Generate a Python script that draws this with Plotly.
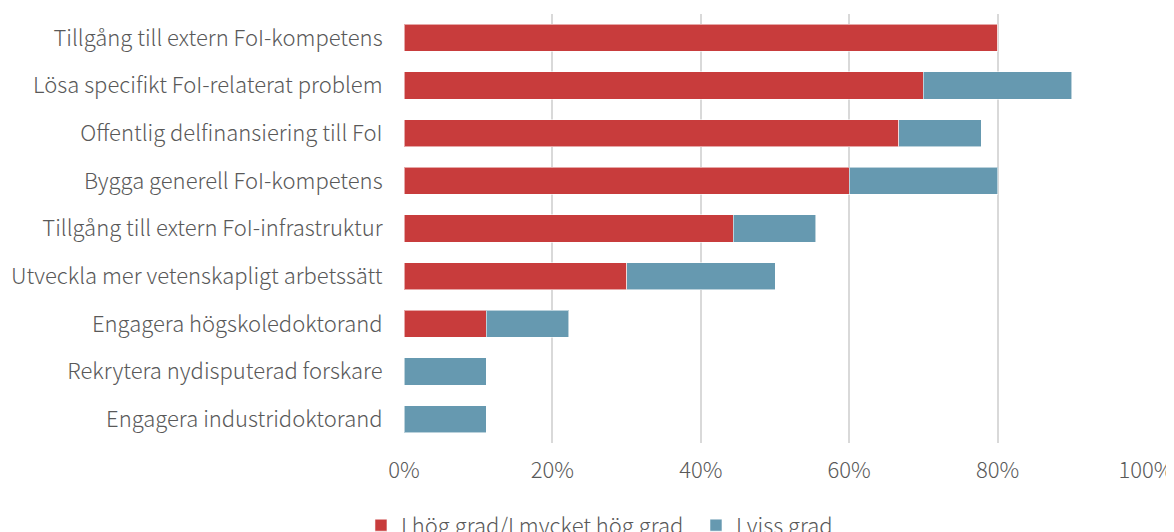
import plotly.graph_objects as go

categories = [
    "Tillgång till extern FoI-kompetens",
    "Lösa specifikt FoI-relaterat problem",
    "Offentlig delfinansiering till FoI",
    "Bygga generell FoI-kompetens",
    "Tillgång till extern FoI-infrastruktur",
    "Utveckla mer vetenskapligt arbetssätt",
    "Engagera högskoledoktorand",
    "Rekrytera nydisputerad forskare",
    "Engagera industridoktorand",
]
hog_grad = [0.80, 0.70, 0.667, 0.60, 0.444, 0.30, 0.111, 0.0, 0.0]
viss_grad = [0.0, 0.20, 0.111, 0.20, 0.111, 0.20, 0.111, 0.111, 0.111]
series_names = ["I hög grad/I mycket hög grad", "I viss grad"]
tick_vals = [0, 0.2, 0.4, 0.6, 0.8, 1.0]
tick_text = ["0%", "20%", "40%", "60%", "80%", "100%"]

FONT = "Noto Sans CJK JP, Noto Sans, sans-serif"
GREY = "#595959"
FS = 22

fig = go.Figure()
fig.add_trace(go.Bar(
    y=categories, x=hog_grad, orientation="h", name=series_names[0],
    marker=dict(color="#C83C3C", line=dict(color="rgba(255,255,255,0.55)", width=1)),
))
fig.add_trace(go.Bar(
    y=categories, x=viss_grad, orientation="h", name=series_names[1],
    marker=dict(color="#6699B0", line=dict(color="rgba(255,255,255,0.55)", width=1)),
))

# page body adds an 8px offset, so the figure is sized to fit the window
fig.update_layout(
    barmode="stack",
    bargap=0.43,
    width=1166, height=524,
    margin=dict(l=396, r=28, t=6, b=89, autoexpand=False),
    plot_bgcolor="white", paper_bgcolor="white",
    font=dict(family=FONT, size=FS, color=GREY, weight=300),
    showlegend=True,
    legend=dict(
        orientation="h", traceorder="normal",
        xref="paper", yref="paper",
        x=0.3935, xanchor="center", y=-0.192, yanchor="middle",
        font=dict(family=FONT, size=FS, color=GREY, weight=300),
        itemwidth=30, entrywidth=290,
    ),
    xaxis=dict(
        range=[0, 1.0], tickvals=tick_vals, ticktext=tick_text,
        showgrid=True, gridcolor="#D9D9D9", gridwidth=1.5,
        zeroline=False, showline=False,
        ticks="outside", ticklen=8, tickcolor="rgba(0,0,0,0)",
        tickfont=dict(family=FONT, size=FS, color=GREY, weight=300),
    ),
    yaxis=dict(
        categoryorder="array", categoryarray=categories, autorange="reversed",
        showgrid=False, zeroline=False, showline=False,
        ticks="outside", ticklen=16, tickcolor="rgba(0,0,0,0)",
        tickfont=dict(family=FONT, size=FS, color=GREY, weight=300),
    ),
)

fig.write_html("out.html")
